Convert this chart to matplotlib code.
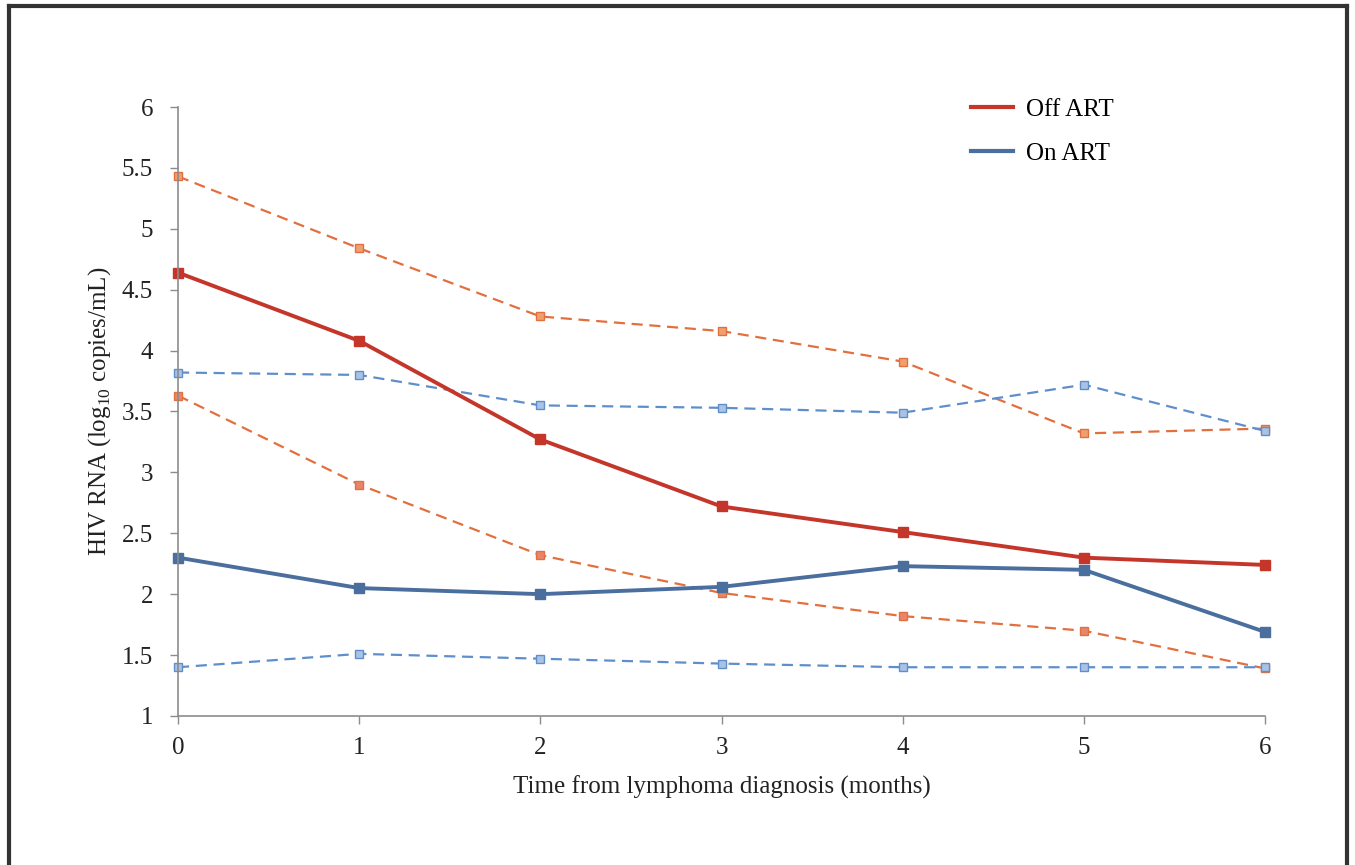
import matplotlib.pyplot as plt
from matplotlib.lines import Line2D

plt.rcParams['font.family'] = ['Liberation Serif', 'DejaVu Serif']
plt.rcParams['mathtext.fontset'] = 'custom'
plt.rcParams['mathtext.rm'] = 'Liberation Serif'

months = [0, 1, 2, 3, 4, 5, 6]

# Off ART: median and bounds
off_art = [4.64, 4.08, 3.27, 2.72, 2.51, 2.30, 2.24]
off_upper = [5.43, 4.84, 4.28, 4.16, 3.91, 3.32, 3.36]
off_lower = [3.63, 2.90, 2.32, 2.01, 1.82, 1.70, 1.39]

# On ART: median and bounds
on_art = [2.30, 2.05, 2.00, 2.06, 2.23, 2.20, 1.69]
on_upper = [3.82, 3.80, 3.55, 3.53, 3.49, 3.72, 3.34]
on_lower = [1.40, 1.51, 1.47, 1.43, 1.40, 1.40, 1.40]

red = '#c4352a'
orange = '#e2703f'
blue = '#4a6e9e'
lightblue = '#5f8fca'

fig = plt.figure(figsize=(13.55, 8.65), dpi=100)
ax = fig.add_axes([0.1314, 0.1723, 0.8022, 0.704])

ax.plot(months, off_upper, color=orange, ls='--', lw=1.6, dashes=(5, 3),
        marker='s', ms=6, mfc='#f0a070', mec=orange)
ax.plot(months, off_lower, color=orange, ls='--', lw=1.6, dashes=(5, 3),
        marker='s', ms=6, mfc='#e8866a', mec=orange)
ax.plot(months, on_upper, color=lightblue, ls='--', lw=1.6, dashes=(5, 3),
        marker='s', ms=6, mfc='#a9c3e6', mec=lightblue)
ax.plot(months, on_lower, color=lightblue, ls='--', lw=1.6, dashes=(5, 3),
        marker='s', ms=6, mfc='#a9c3e6', mec=lightblue)
ax.plot(months, on_art, color=blue, lw=2.8, marker='s', ms=6.5, label='On ART')
ax.plot(months, off_art, color=red, lw=2.8, marker='s', ms=6.5, label='Off ART')

ax.set_xlim(0, 6)
ax.set_ylim(1, 6)
ax.set_xticks(months)
ax.set_yticks([1, 1.5, 2, 2.5, 3, 3.5, 4, 4.5, 5, 5.5, 6])
ax.set_yticklabels(['1', '1.5', '2', '2.5', '3', '3.5', '4', '4.5', '5', '5.5', '6'])
ax.spines['top'].set_visible(False)
ax.spines['right'].set_visible(False)
for s in ['left', 'bottom']:
    ax.spines[s].set_color('#8c8c8c')
    ax.spines[s].set_linewidth(1.2)
ax.tick_params(axis='both', colors='#8c8c8c', labelcolor='#222222',
               labelsize=18, length=6, width=1.0)
ax.tick_params(axis='y', pad=12)
ax.tick_params(axis='x', pad=9)
for line in ax.lines:
    line.set_clip_on(False)

ax.set_xlabel('Time from lymphoma diagnosis (months)', fontsize=18, color='#222222', labelpad=12)
ax.set_ylabel('HIV RNA (log$_{10}$ copies/mL)', fontsize=18, color='#222222', labelpad=6)

handles = [Line2D([], [], color=red, lw=3), Line2D([], [], color=blue, lw=3)]
fig.legend(handles, ['Off ART', 'On ART'], loc='upper left',
           bbox_to_anchor=(0.700, 0.912), frameon=False, fontsize=18,
           handlelength=1.7, handletextpad=0.5, labelspacing=0.85)

# outer frame
fig.add_artist(Line2D([0.0065, 0.0065], [0, 0.993], color='#333333', lw=3))
fig.add_artist(Line2D([0.0065, 0.994], [0.993, 0.993], color='#333333', lw=3))
fig.add_artist(Line2D([0.994, 0.994], [0, 0.993], color='#333333', lw=3))

fig.savefig('out.png', dpi=100)
